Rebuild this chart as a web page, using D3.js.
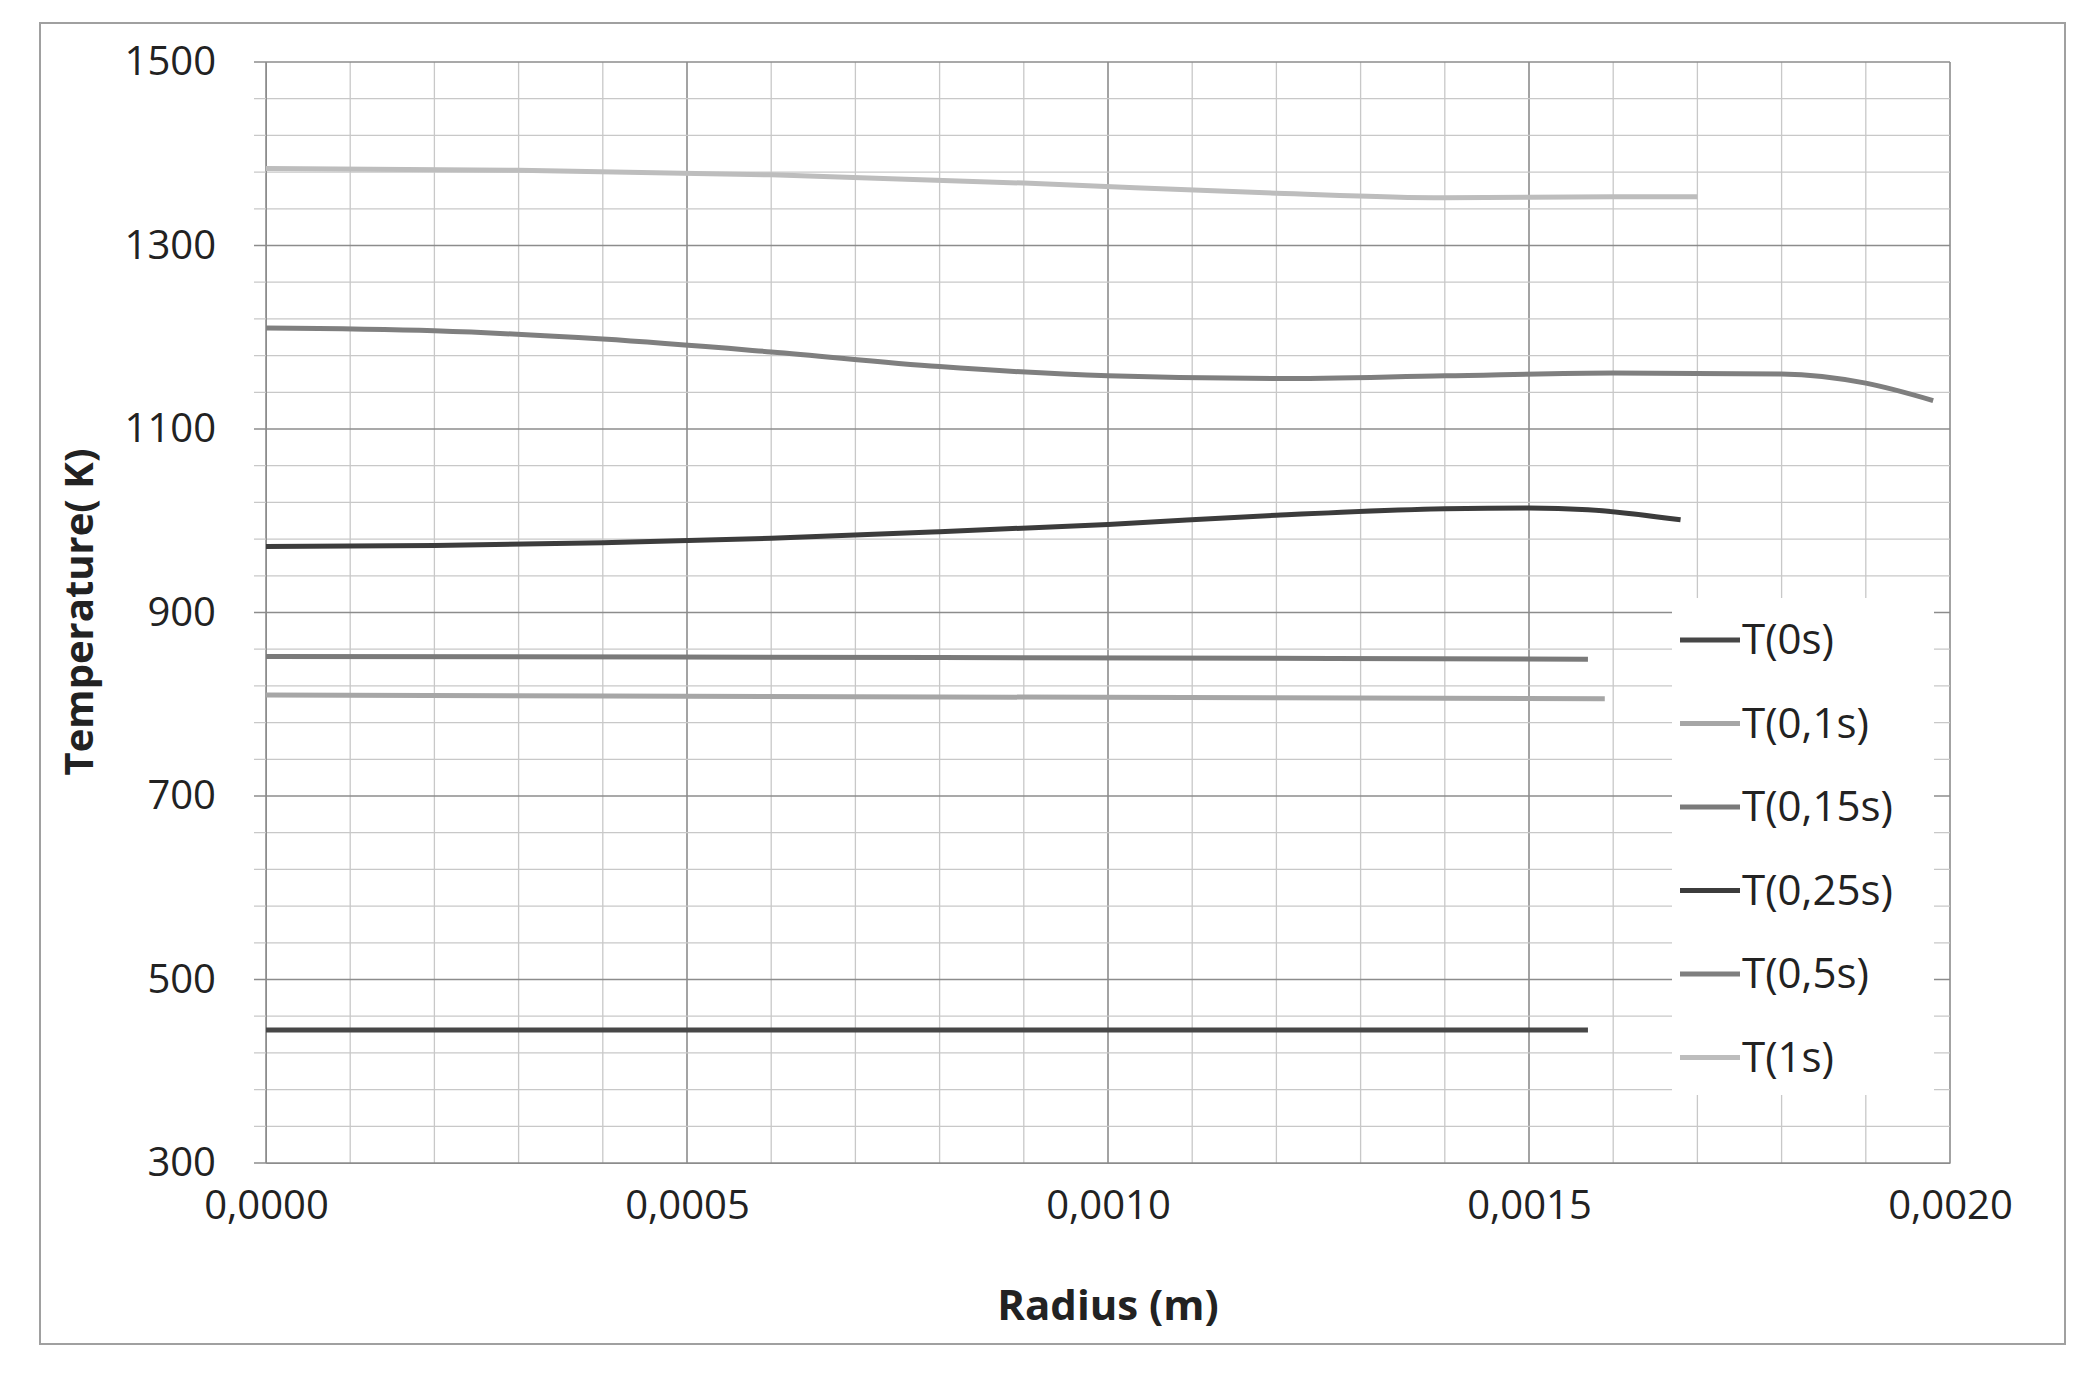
<!DOCTYPE html>
<html>
<head>
<meta charset="utf-8">
<script src="https://cdn.jsdelivr.net/npm/d3@7"></script>
<style>
body { margin: 0; background: #fff; }
text { font-family: "Open Sans", sans-serif; }
</style>
</head>
<body>
<svg id="chart" width="2095" height="1386"></svg>
<script>
// chart data
var seriesNames = [ 'T(0s)', 'T(0.1s)', 'T(0.15s)', 'T(0.25s)', 'T(0.5s)', 'T(1s)' ];
var seriesColors = [ '#474747', '#a6a6a6', '#7a7a7a', '#3c3c3c', '#7f7f7f', '#bdbdbd' ];
var t0 = [ [ 0, 445 ], [ 0.0008, 445 ], [ 0.00157, 445 ] ];
var t01 = [ [ 0, 810 ], [ 0.0008, 808 ], [ 0.00159, 806 ] ];
var t015 = [ [ 0, 852 ], [ 0.0008, 851 ], [ 0.00157, 849 ] ];
var t025 = [ [ 0, 972 ], [ 0.0002, 973 ], [ 0.0004, 976 ], [ 0.0006, 981 ], [ 0.0008, 988 ], [ 0.001, 996 ],
             [ 0.0012, 1006 ], [ 0.0014, 1013 ], [ 0.0015, 1014 ], [ 0.00157, 1012 ], [ 0.00168, 1001 ] ];
var t05 = [ [ 0, 1210 ], [ 0.0002, 1207 ], [ 0.0004, 1198 ], [ 0.0006, 1184 ], [ 0.0008, 1168 ], [ 0.001, 1158 ],
            [ 0.0012, 1155 ], [ 0.0014, 1158 ], [ 0.0016, 1161 ], [ 0.0018, 1160 ], [ 0.0019, 1150 ], [ 0.00198, 1131 ] ];
var t1 = [ [ 0, 1384 ], [ 0.0003, 1382 ], [ 0.0006, 1377 ], [ 0.0009, 1368 ], [ 0.0012, 1357 ],
           [ 0.0014, 1352 ], [ 0.0016, 1353 ], [ 0.0017, 1353 ] ];
var seriesData = [ t0, t01, t015, t025, t05, t1 ];
var xTicks = [ 0, 0.0005, 0.001, 0.0015, 0.002 ];
var yTicks = [ 300, 500, 700, 900, 1100, 1300, 1500 ];

var svg = d3.select( '#chart' );
var plotLeft = 266, plotRight = 1950, plotTop = 62, plotBottom = 1163;

svg.append( 'rect' )
    .attr( 'x', 40 ).attr( 'y', 23 ).attr( 'width', 2025 ).attr( 'height', 1321 )
    .attr( 'fill', '#fff' ).attr( 'stroke', '#a0a0a0' ).attr( 'stroke-width', 2 );

var x = d3.scaleLinear().domain( [ 0, 0.002 ] ).range( [ plotLeft, plotRight ] );
var y = d3.scaleLinear().domain( [ 300, 1500 ] ).range( [ plotBottom, plotTop ] );

// grid, minor and major
var grid = svg.append( 'g' );
d3.range( 0, 21 ).forEach( function( i ) {
    var v = i * 0.0001;
    grid.append( 'line' )
        .attr( 'x1', x( v ) ).attr( 'x2', x( v ) ).attr( 'y1', plotTop ).attr( 'y2', plotBottom )
        .attr( 'stroke', i % 5 === 0 ? '#8c8c8c' : '#c8c8c8' ).attr( 'stroke-width', i % 5 === 0 ? 1.6 : 1.3 );
});
d3.range( 0, 31 ).forEach( function( i ) {
    var v = 300 + i * 40;
    grid.append( 'line' )
        .attr( 'x1', plotLeft - 12 ).attr( 'x2', plotRight ).attr( 'y1', y( v ) ).attr( 'y2', y( v ) )
        .attr( 'stroke', i % 5 === 0 ? '#8c8c8c' : '#c8c8c8' ).attr( 'stroke-width', i % 5 === 0 ? 1.6 : 1.3 );
});

// axes
svg.append( 'g' )
    .attr( 'transform', 'translate(0,' + plotBottom + ')' )
    .call( d3.axisBottom( x ).tickValues( xTicks ).tickSize( 0 ).tickPadding( 28 ) )
    .call( function( g ) { g.select( '.domain' ).attr( 'stroke', '#8c8c8c' ); } )
    .selectAll( 'text' ).attr( 'font-size', 40 ).attr( 'fill', '#222' )
    .text( function( d ) { return d3.format( '.4f' )( d ).replace( '.', ',' ); } );

svg.append( 'g' )
    .attr( 'transform', 'translate(' + plotLeft + ',0)' )
    .call( d3.axisLeft( y ).tickValues( yTicks ).tickFormat( d3.format( 'd' ) ).tickSize( 0 ).tickPadding( 50 ) )
    .call( function( g ) { g.select( '.domain' ).attr( 'stroke', '#8c8c8c' ); } )
    .selectAll( 'text' ).attr( 'font-size', 40 ).attr( 'fill', '#222' );

svg.append( 'text' )
    .attr( 'x', ( plotLeft + plotRight ) / 2 ).attr( 'y', 1320 )
    .attr( 'text-anchor', 'middle' ).attr( 'font-size', 42 ).attr( 'font-weight', 'bold' )
    .attr( 'fill', '#222' ).text( 'Radius (m)' );

svg.append( 'text' )
    .attr( 'transform', 'translate(93,612) rotate(-90)' )
    .attr( 'text-anchor', 'middle' ).attr( 'font-size', 40 ).attr( 'font-weight', 'bold' )
    .attr( 'fill', '#222' ).text( 'Temperature( K)' );

// lines
var line = d3.line()
    .x( function( d ) { return x( d[ 0 ] ); } )
    .y( function( d ) { return y( d[ 1 ] ); } )
    .curve( d3.curveMonotoneX );

seriesData.forEach( function( s, i ) {
    svg.append( 'path' )
        .attr( 'd', line( s ) )
        .attr( 'fill', 'none' )
        .attr( 'stroke', seriesColors[ i ] )
        .attr( 'stroke-width', 5 );
});

// legend
var legend = svg.append( 'g' );
legend.append( 'rect' )
    .attr( 'x', 1672 ).attr( 'y', 598 ).attr( 'width', 262 ).attr( 'height', 497 )
    .attr( 'fill', '#fff' );
seriesNames.forEach( function( name, i ) {
    var ly = 640 + i * 83.5;
    legend.append( 'line' )
        .attr( 'x1', 1680 ).attr( 'x2', 1740 ).attr( 'y1', ly ).attr( 'y2', ly )
        .attr( 'stroke', seriesColors[ i ] ).attr( 'stroke-width', 5 );
    legend.append( 'text' )
        .attr( 'x', 1742 ).attr( 'y', ly + 14 )
        .attr( 'font-size', 42 ).attr( 'fill', '#222' ).text( name.replace( '.', ',' ) );
});
</script>
</body>
</html>
